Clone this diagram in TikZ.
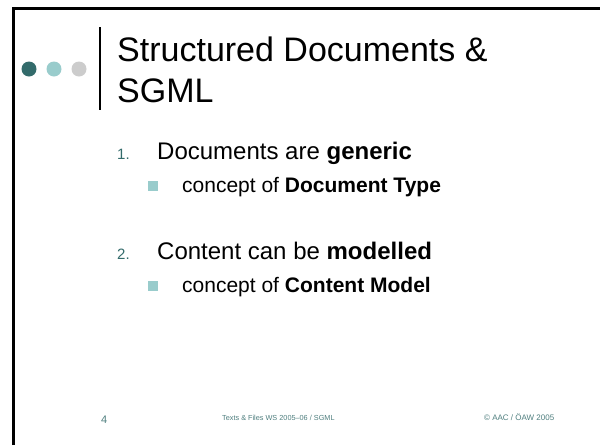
\documentclass[tikz,border=0pt]{standalone}
\usepackage{fontspec}
\setmainfont{Liberation Sans}
\definecolor{darkteal}{HTML}{336B6B}
\definecolor{lightteal}{HTML}{99CCCC}
\definecolor{lightgray}{HTML}{CCCCCC}
\definecolor{foot}{HTML}{4F7F7F}
\begin{document}
\begin{tikzpicture}[x=1pt,y=-1pt,
  dot/.style={circle,inner sep=0pt,minimum size=15pt},
  title/.style={anchor=base west,inner sep=0pt,font=\fontsize{34}{40}\selectfont},
  num/.style={anchor=base west,inner sep=0pt,text=darkteal,font=\fontsize{15}{18}\selectfont},
  item/.style={anchor=base west,inner sep=0pt,font=\fontsize{24}{28}\selectfont},
  sub/.style={anchor=base west,inner sep=0pt,font=\fontsize{21}{25}\selectfont},
  sq/.style={rectangle,fill=lightteal,inner sep=0pt,minimum size=9.5pt},
  footer/.style={anchor=base west,inner sep=0pt,text=foot}]
\useasboundingbox (0,0) rectangle (600,445);
\fill[white] (0,0) rectangle (600,445);
% frame
\draw[line width=3pt] (13.5,445) -- (13.5,8) -- (600,8);
% dots
\node[dot,fill=darkteal] (d1) at (29,69) {};
\node[dot,fill=lightteal] (d2) at (54,69) {};
\node[dot,fill=lightgray] (d3) at (79,69) {};
\coordinate (vt) at (100,27);
\coordinate (vb) at (100,110);
\draw[line width=1.2pt] (vt) -- (vb);
% title
\node[title] (t1) at (117,61) {Structured Documents \&};
\node[title] (t2) at (117,102) {SGML};
% items
\node[num] (n1) at (117,159) {1.};
\node[item] (i1) at (157,159) {Documents are \textbf{generic}};
\node[sq] (s1) at (153,186) {};
\node[sub] (u1) at (182,192) {concept of \textbf{Document Type}};
\node[num] (n2) at (117,259) {2.};
\node[item] (i2) at (157,259) {Content can be \textbf{modelled}};
\node[sq] (s2) at (153,286) {};
\node[sub] (u2) at (182,292) {concept of \textbf{Content Model}};
% footer
\node[footer,font=\fontsize{11}{12}\selectfont] (pg) at (101,423) {4};
\node[footer,font=\fontsize{7.3}{9}\selectfont] (f1) at (222,420) {Texts \& Files WS 2005–06 / SGML};
\node[footer,font=\fontsize{8}{10}\selectfont] (f2) at (484,420) {© AAC / ÖAW 2005};
\end{tikzpicture}
\end{document}
